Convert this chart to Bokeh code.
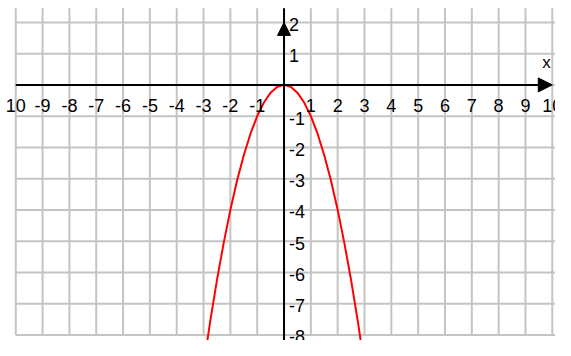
from bokeh.plotting import figure
from bokeh.models import Arrow, NormalHead, Range1d, Label
from bokeh.core.properties import value
from bokeh.embed import file_html
from bokeh.resources import INLINE

# ---- data ----
grid_x = [-10, -9, -8, -7, -6, -5, -4, -3, -2, -1, 0, 1, 2, 3, 4, 5, 6, 7, 8, 9, 10]
grid_y = [-8, -7, -6, -5, -4, -3, -2, -1, 0, 1, 2]
x_tick_pos = [-10, -9, -8, -7, -6, -5, -4, -3, -2, -1, 1, 2, 3, 4, 5, 6, 7, 8, 9, 10]
x_tick_labels = ["10", "-9", "-8", "-7", "-6", "-5", "-4", "-3", "-2", "-1",
                 "1", "2", "3", "4", "5", "6", "7", "8", "9", "10"]
y_tick_pos = [2, 1, -1, -2, -3, -4, -5, -6, -7, -8]
y_tick_labels = ["2", "1", "-1", "-2", "-3", "-4", "-5", "-6", "-7", "-8"]
curve_x = [-3.0, -2.75, -2.5, -2.25, -2.0, -1.75, -1.5, -1.25, -1.0, -0.75, -0.5, -0.25, 0.0,
           0.25, 0.5, 0.75, 1.0, 1.25, 1.5, 1.75, 2.0, 2.25, 2.5, 2.75, 3.0]
curve_y = [-9.0, -7.5625, -6.25, -5.0625, -4.0, -3.0625, -2.25, -1.5625, -1.0, -0.5625, -0.25, -0.0625, 0.0,
           -0.0625, -0.25, -0.5625, -1.0, -1.5625, -2.25, -3.0625, -4.0, -5.0625, -6.25, -7.5625, -9.0]

X0, X1 = -10.569, 10.12
Y0, Y1 = -8.18, 2.70
GRID_TOP = 2.45

p = figure(width=555, height=340, x_range=Range1d(X0, X1), y_range=Range1d(Y0, Y1),
           x_axis_type=None, y_axis_type=None, output_backend="svg",
           toolbar_location=None, min_border=0)
p.grid.visible = False
p.outline_line_color = None
p.background_fill_color = "white"
p.border_fill_color = "white"

GRID = "#c4c4c4"
# vertical grid lines
p.segment(x0=grid_x, y0=[min(grid_y)] * len(grid_x), x1=grid_x, y1=[GRID_TOP] * len(grid_x),
          line_color=GRID, line_width=2)
# horizontal grid lines
p.segment(x0=[min(grid_x)] * len(grid_y), y0=grid_y, x1=[X1] * len(grid_y), y1=grid_y,
          line_color=GRID, line_width=2)

# y axis line
p.segment(x0=[0], y0=[Y0], x1=[0], y1=[GRID_TOP], line_color="black", line_width=2)
# x axis with arrow
p.add_layout(Arrow(x_start=min(grid_x), y_start=0, x_end=max(grid_x), y_end=0,
                   line_color="black", line_width=2,
                   end=NormalHead(size=14, fill_color="black", line_color="black")))
# y axis arrow head
p.add_layout(Arrow(x_start=0, y_start=1.2, x_end=0, y_end=max(grid_y),
                   line_color="black", line_width=2,
                   end=NormalHead(size=13, fill_color="black", line_color="black")))

# parabola
p.line(curve_x, curve_y, line_color="red", line_width=2)

FONT = value("Liberation Sans")
p.text(x=x_tick_pos, y=[0] * len(x_tick_pos), text=x_tick_labels,
       text_font=FONT, text_font_size="18px", text_color="black",
       text_align="center", text_baseline="middle", y_offset=21)
p.text(x=[0] * len(y_tick_pos), y=y_tick_pos, text=y_tick_labels,
       text_font=FONT, text_font_size="18px", text_color="black",
       text_align="left", text_baseline="middle", x_offset=5, y_offset=2)

p.add_layout(Label(x=9.78, y=0.72, text="x", text_font="Liberation Sans", text_font_size="17px",
                   text_align="center", text_baseline="middle", text_color="black"))

open("out.html", "w").write(file_html(p, INLINE))
